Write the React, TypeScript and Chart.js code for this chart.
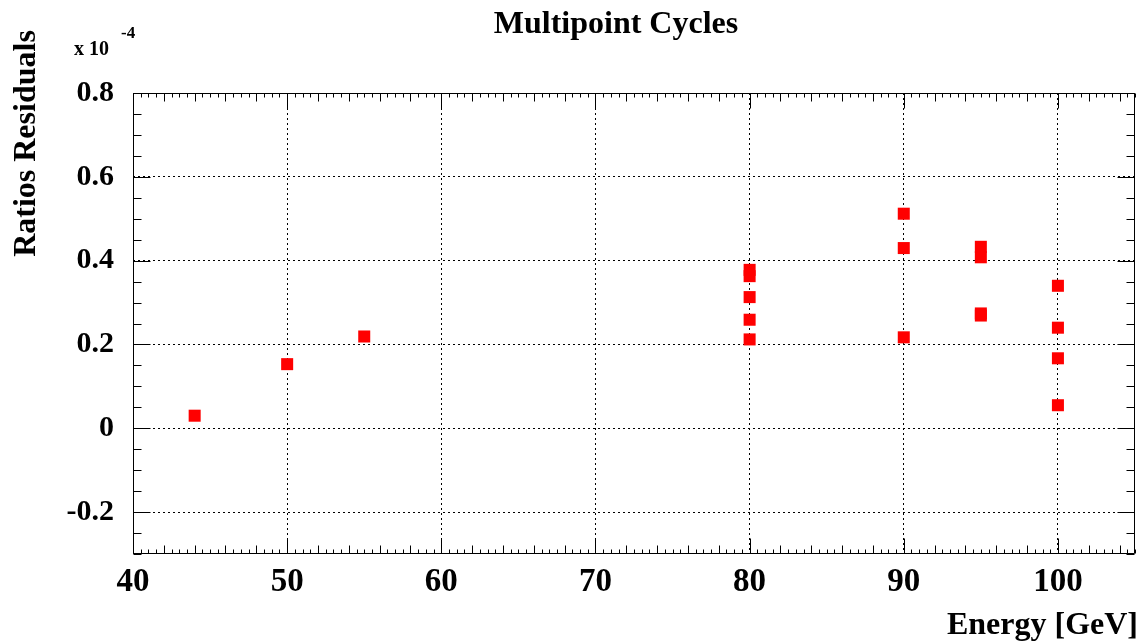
import React, { useEffect, useRef } from "react";
import { Chart, registerables } from "chart.js";

Chart.register(...registerables);

const energies = [44, 50, 55, 80, 80, 80, 80, 80, 90, 90, 90, 95, 95, 95, 95, 100, 100, 100, 100];
const residuals = [0.03, 0.153, 0.219, 0.378, 0.363, 0.313, 0.259, 0.212, 0.512, 0.43, 0.217, 0.433, 0.408, 0.274, 0.269, 0.34, 0.24, 0.167, 0.055];
const xTicks = [40, 50, 60, 70, 80, 90, 100];
const yTicks = [-0.2, 0, 0.2, 0.4, 0.6, 0.8];

const chartTitle = "Multipoint Cycles";
const xTitle = "Energy [GeV]";
const yTitle = "Ratios Residuals";
const expLabel = "x 10";
const expPower = "-4";

const FONT = "'Liberation Serif', 'Times New Roman', serif";

const framePlugin = {
  id: "rootFrame",
  afterDraw(chart: any) {
    const { ctx, chartArea } = chart;
    const { left, right, top, bottom } = chartArea;
    const xs = chart.scales.x;
    const ys = chart.scales.y;
    ctx.save();
    ctx.strokeStyle = "#000";
    ctx.lineWidth = 1;
    const L = Math.round(left) + 0.5;
    const R = Math.round(right) - 0.5;
    const T = Math.round(top) + 0.5;
    const B = Math.round(bottom) - 0.5;
    ctx.beginPath();
    ctx.rect(L, T, R - L, B - T);
    ctx.stroke();

    ctx.beginPath();
    for (let i = 0; i <= 130; i++) {
      const v = 40 + i * 0.5;
      const px = Math.round(xs.getPixelForValue(v)) + 0.5;
      let len = 4;
      if (i % 20 === 0) len = 15;
      else if (i % 4 === 0) len = 8;
      ctx.moveTo(px, B);
      ctx.lineTo(px, B - len);
      ctx.moveTo(px, T);
      ctx.lineTo(px, T + len);
    }
    for (let i = 0; i <= 22; i++) {
      const v = -0.3 + i * 0.05;
      const py = Math.round(ys.getPixelForValue(v)) + 0.5;
      const isMajor = Math.abs(Math.round((v + 0.2) / 0.2) * 0.2 - (v + 0.2)) < 1e-6;
      const len = isMajor ? 17 : 8;
      ctx.moveTo(L, py);
      ctx.lineTo(L + len, py);
      ctx.moveTo(R, py);
      ctx.lineTo(R - len, py);
    }
    ctx.stroke();

    ctx.fillStyle = "#000";
    ctx.font = `bold 32px ${FONT}`;
    ctx.textAlign = "center";
    ctx.textBaseline = "alphabetic";
    ctx.fillText(chartTitle, 616, 33);

    ctx.textAlign = "right";
    ctx.fillText(xTitle, 1138, 634);

    ctx.save();
    ctx.translate(35, 143.5);
    ctx.rotate(-Math.PI / 2);
    ctx.textAlign = "center";
    ctx.fillText(yTitle, 0, 0);
    ctx.restore();

    ctx.textAlign = "left";
    ctx.font = `bold 20px ${FONT}`;
    ctx.fillText(expLabel, 74, 55);
    ctx.font = `bold 17px ${FONT}`;
    ctx.fillText(expPower, 121, 38);
    ctx.restore();
  },
};

export default function App() {
  const canvasRef = useRef<HTMLCanvasElement | null>(null);

  useEffect(() => {
    const canvas = canvasRef.current;
    if (!canvas) return;
    const chart = new Chart(canvas, {
      type: "scatter",
      data: {
        datasets: [
          {
            data: energies.map((e, i) => ({ x: e, y: residuals[i] })),
            pointStyle: "rect",
            pointRadius: 8.5,
            pointHoverRadius: 8.5,
            backgroundColor: "#ff0000",
            borderWidth: 0,
          },
        ],
      },
      options: {
        responsive: false,
        animation: false,
        devicePixelRatio: 1,
        layout: { padding: { top: 93, right: 10, left: 0, bottom: 0 } },
        plugins: {
          legend: { display: false },
          title: { display: false },
          tooltip: { enabled: false },
        },
        scales: {
          x: {
            type: "linear",
            min: 40,
            max: 105,
            afterBuildTicks: (scale: any) => {
              scale.ticks = xTicks.map((v) => ({ value: v }));
            },
            afterFit: (scale: any) => {
              scale.height = 87;
            },
            ticks: {
              color: "#000",
              padding: 9,
              maxRotation: 0,
              autoSkip: false,
              font: { family: FONT, size: 33, weight: "bold" },
              callback: (v: any) => String(v),
            },
            grid: { color: "#000", lineWidth: 1, drawTicks: false },
            border: { display: false, dash: [2, 3] },
          },
          y: {
            type: "linear",
            min: -0.3,
            max: 0.8,
            afterBuildTicks: (scale: any) => {
              scale.ticks = yTicks.map((v) => ({ value: v }));
            },
            afterFit: (scale: any) => {
              scale.width = 133;
            },
            ticks: {
              color: "#000",
              padding: 19,
              autoSkip: false,
              font: { family: FONT, size: 30, weight: "bold" },
              callback: (v: any) => (Math.abs(v) < 1e-9 ? "0" : String(Math.round(v * 10) / 10)),
            },
            grid: { color: "#000", lineWidth: 1, drawTicks: false },
            border: { display: false, dash: [2, 3] },
          },
        },
      },
      plugins: [framePlugin],
    });
    return () => chart.destroy();
  }, []);

  return (
    <div style={{ position: "absolute", left: 0, top: 0, width: 1145, height: 641, background: "#fff" }}>
      <canvas ref={canvasRef} width={1145} height={641} style={{ display: "block" }} />
    </div>
  );
}
